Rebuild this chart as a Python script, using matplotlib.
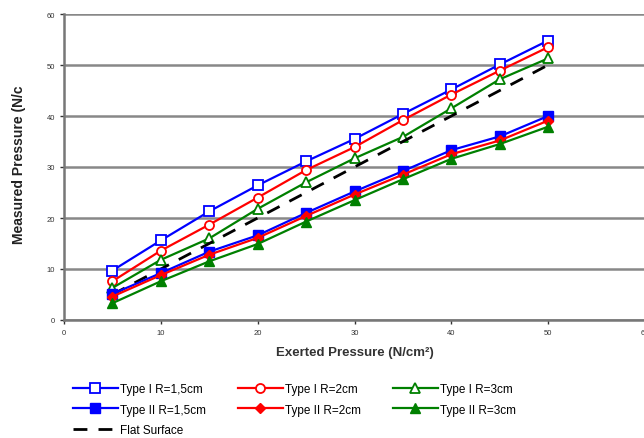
import numpy as np
import matplotlib
matplotlib.use("Agg")
import matplotlib.pyplot as plt

# exerted pressure (N/cm2)
x = [5, 10, 15, 20, 25, 30, 35, 40, 45, 50]

# measured pressure for each sensor type
type1_r15 = [9.7, 15.6, 21.3, 26.4, 31.1, 35.5, 40.4, 45.2, 50.1, 54.8]
type1_r2 = [7.6, 13.6, 18.7, 24.0, 29.4, 33.9, 39.2, 44.2, 48.9, 53.5]
type1_r3 = [6.3, 11.8, 16.0, 21.8, 27.0, 31.7, 35.9, 41.5, 47.2, 51.3]
type2_r15 = [5.1, 9.2, 13.4, 16.6, 21.0, 25.2, 29.2, 33.3, 36.0, 40.0]
type2_r2 = [4.6, 8.8, 12.8, 16.1, 20.4, 24.6, 28.5, 32.5, 35.2, 39.1]
type2_r3 = [3.3, 7.6, 11.5, 14.9, 19.3, 23.5, 27.6, 31.6, 34.5, 37.9]
flat = [5, 10, 15, 20, 25, 30, 35, 40, 45, 50]

labels = ["Type I R=1,5cm", "Type II R=1,5cm", "Flat Surface",
          "Type I R=2cm", "Type II R=2cm",
          "Type I R=3cm", "Type II R=3cm"]

plt.rcParams['font.family'] = ['Liberation Sans', 'DejaVu Sans']

fig = plt.figure(figsize=(6.44, 4.39), dpi=100)
ax = fig.add_axes([64/644, (439-321)/439, (645-64)/644, (321-15)/439])

blue = "#0000ff"
red = "#ff0000"
green = "#008000"
lw = 1.6
ms = 6.5

h1, = ax.plot(x, type1_r15, color=blue, lw=lw, marker="s", ms=ms, mfc="white", mec=blue, mew=1.3)
h2, = ax.plot(x, type1_r2, color=red, lw=lw, marker="o", ms=ms, mfc="white", mec=red, mew=1.3)
h3, = ax.plot(x, type1_r3, color=green, lw=lw, marker="^", ms=ms, mfc="white", mec=green, mew=1.3)
h7, = ax.plot(x, flat, color="black", lw=2, dashes=(5, 4))
h4, = ax.plot(x, type2_r15, color=blue, lw=lw, marker="s", ms=ms, mfc=blue, mec=blue)
h5, = ax.plot(x, type2_r2, color=red, lw=lw, marker="D", ms=ms-1, mfc=red, mec=red)
h6, = ax.plot(x, type2_r3, color=green, lw=lw, marker="^", ms=ms, mfc=green, mec=green)

ax.set_xlim(0, 60)
ax.set_ylim(0, 60)
ax.set_xticks(np.arange(0, 61, 10))
ax.set_yticks(np.arange(0, 61, 10))
ax.yaxis.grid(True, color="#888888", lw=1.8)
ax.set_axisbelow(True)
for s in ["top", "right"]:
    ax.spines[s].set_visible(False)
for s in ["left", "bottom"]:
    ax.spines[s].set_color("#777777")
    ax.spines[s].set_linewidth(1.8)
ax.tick_params(axis="both", labelsize=5.5, colors="#333333", length=3, width=1, direction="out")

ax.set_xlabel("Exerted Pressure (N/cm²)", fontsize=9.5, fontweight="bold", color="#333333", labelpad=7)
ax.set_ylabel("Measured Pressure (N/c", fontsize=10, fontweight="bold", color="#222222")
ax.yaxis.set_label_coords(-0.065, 0.51)

handles = [h1, h4, h7, h2, h5, h3, h6]
fig.legend(handles, labels, ncol=3, loc="upper left", bbox_to_anchor=(68/644, 1 - 379/439),
           frameon=False, fontsize=8.5, handlelength=3.8, handletextpad=0.2,
           columnspacing=2.7, labelspacing=0.75, borderaxespad=0)

fig.savefig("out.png", dpi=100)
